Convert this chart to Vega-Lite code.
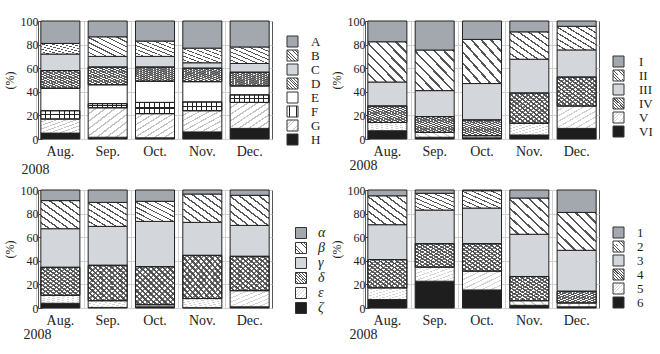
{
  "$schema": "https://vega.github.io/schema/vega-lite/v6.json",
  "padding": {"left": 2, "top": 14, "right": 0, "bottom": 0},
  "background": "white",
  "config": {
    "font": "Liberation Serif",
    "view": {"stroke": "#555", "strokeWidth": 1},
    "axis": {"labelColor": "#222", "titleColor": "#222", "domain": false, "gridColor": "#d0d0d0", "labelFont": "Liberation Serif", "titleFont": "Liberation Serif"},
    "legend": {"labelFont": "Liberation Serif", "labelColor": "#222"}
  },
  "datasets": {
    "p1": [
      {"m": "Aug.", "c": "H", "v": 5}, {"m": "Aug.", "c": "G", "v": 12}, {"m": "Aug.", "c": "F", "v": 7}, {"m": "Aug.", "c": "E", "v": 19}, {"m": "Aug.", "c": "D", "v": 15}, {"m": "Aug.", "c": "C", "v": 14}, {"m": "Aug.", "c": "B", "v": 9}, {"m": "Aug.", "c": "A", "v": 19},
      {"m": "Sep.", "c": "H", "v": 1.5}, {"m": "Sep.", "c": "G", "v": 25}, {"m": "Sep.", "c": "F", "v": 3.5}, {"m": "Sep.", "c": "E", "v": 16}, {"m": "Sep.", "c": "D", "v": 15}, {"m": "Sep.", "c": "C", "v": 9}, {"m": "Sep.", "c": "B", "v": 16.6}, {"m": "Sep.", "c": "A", "v": 13.4},
      {"m": "Oct.", "c": "H", "v": 1}, {"m": "Oct.", "c": "G", "v": 20.5}, {"m": "Oct.", "c": "F", "v": 9.5}, {"m": "Oct.", "c": "E", "v": 18}, {"m": "Oct.", "c": "D", "v": 12}, {"m": "Oct.", "c": "C", "v": 9}, {"m": "Oct.", "c": "B", "v": 13}, {"m": "Oct.", "c": "A", "v": 17},
      {"m": "Nov.", "c": "H", "v": 6}, {"m": "Nov.", "c": "G", "v": 18}, {"m": "Nov.", "c": "F", "v": 7.4}, {"m": "Nov.", "c": "E", "v": 17.2}, {"m": "Nov.", "c": "D", "v": 11.4}, {"m": "Nov.", "c": "C", "v": 4.6}, {"m": "Nov.", "c": "B", "v": 12.4}, {"m": "Nov.", "c": "A", "v": 23},
      {"m": "Dec.", "c": "H", "v": 9}, {"m": "Dec.", "c": "G", "v": 22}, {"m": "Dec.", "c": "F", "v": 6.4}, {"m": "Dec.", "c": "E", "v": 7.6}, {"m": "Dec.", "c": "D", "v": 11.6}, {"m": "Dec.", "c": "C", "v": 7.4}, {"m": "Dec.", "c": "B", "v": 14}, {"m": "Dec.", "c": "A", "v": 22}
    ],
    "p2": [
      {"m": "Aug.", "c": "VI", "v": 7}, {"m": "Aug.", "c": "V", "v": 7}, {"m": "Aug.", "c": "IV", "v": 14}, {"m": "Aug.", "c": "III", "v": 20.3}, {"m": "Aug.", "c": "II", "v": 34.1}, {"m": "Aug.", "c": "I", "v": 17.6},
      {"m": "Sep.", "c": "VI", "v": 1.5}, {"m": "Sep.", "c": "V", "v": 4.1}, {"m": "Sep.", "c": "IV", "v": 13.4}, {"m": "Sep.", "c": "III", "v": 22}, {"m": "Sep.", "c": "II", "v": 34.4}, {"m": "Sep.", "c": "I", "v": 24.6},
      {"m": "Oct.", "c": "VI", "v": 1}, {"m": "Oct.", "c": "V", "v": 1.8}, {"m": "Oct.", "c": "IV", "v": 13.4}, {"m": "Oct.", "c": "III", "v": 30.8}, {"m": "Oct.", "c": "II", "v": 37.4}, {"m": "Oct.", "c": "I", "v": 15.6},
      {"m": "Nov.", "c": "VI", "v": 3.4}, {"m": "Nov.", "c": "V", "v": 10}, {"m": "Nov.", "c": "IV", "v": 25.6}, {"m": "Nov.", "c": "III", "v": 28.6}, {"m": "Nov.", "c": "II", "v": 23.2}, {"m": "Nov.", "c": "I", "v": 9.2},
      {"m": "Dec.", "c": "VI", "v": 9}, {"m": "Dec.", "c": "V", "v": 19}, {"m": "Dec.", "c": "IV", "v": 24.5}, {"m": "Dec.", "c": "III", "v": 23}, {"m": "Dec.", "c": "II", "v": 20}, {"m": "Dec.", "c": "I", "v": 4.5}
    ],
    "p3": [
      {"m": "Aug.", "c": "ζ", "v": 4}, {"m": "Aug.", "c": "ε", "v": 6.7}, {"m": "Aug.", "c": "δ", "v": 23.8}, {"m": "Aug.", "c": "γ", "v": 32.7}, {"m": "Aug.", "c": "β", "v": 23.8}, {"m": "Aug.", "c": "α", "v": 9},
      {"m": "Sep.", "c": "ζ", "v": 0.5}, {"m": "Sep.", "c": "ε", "v": 5.7}, {"m": "Sep.", "c": "δ", "v": 30}, {"m": "Sep.", "c": "γ", "v": 33}, {"m": "Sep.", "c": "β", "v": 20.3}, {"m": "Sep.", "c": "α", "v": 10.5},
      {"m": "Oct.", "c": "ζ", "v": 1}, {"m": "Oct.", "c": "ε", "v": 1.8}, {"m": "Oct.", "c": "δ", "v": 32.2}, {"m": "Oct.", "c": "γ", "v": 38.4}, {"m": "Oct.", "c": "β", "v": 17}, {"m": "Oct.", "c": "α", "v": 9.6},
      {"m": "Nov.", "c": "ζ", "v": 0.3}, {"m": "Nov.", "c": "ε", "v": 7.7}, {"m": "Nov.", "c": "δ", "v": 36.6}, {"m": "Nov.", "c": "γ", "v": 28}, {"m": "Nov.", "c": "β", "v": 24}, {"m": "Nov.", "c": "α", "v": 3.4},
      {"m": "Dec.", "c": "ζ", "v": 1}, {"m": "Dec.", "c": "ε", "v": 13.7}, {"m": "Dec.", "c": "δ", "v": 29.1}, {"m": "Dec.", "c": "γ", "v": 26.2}, {"m": "Dec.", "c": "β", "v": 25.5}, {"m": "Dec.", "c": "α", "v": 4.5}
    ],
    "p4": [
      {"m": "Aug.", "c": "6", "v": 7.1}, {"m": "Aug.", "c": "5", "v": 10}, {"m": "Aug.", "c": "4", "v": 24}, {"m": "Aug.", "c": "3", "v": 29.5}, {"m": "Aug.", "c": "2", "v": 24.5}, {"m": "Aug.", "c": "1", "v": 4.9},
      {"m": "Sep.", "c": "6", "v": 22.7}, {"m": "Sep.", "c": "5", "v": 12}, {"m": "Sep.", "c": "4", "v": 19.8}, {"m": "Sep.", "c": "3", "v": 28.5}, {"m": "Sep.", "c": "2", "v": 14.2}, {"m": "Sep.", "c": "1", "v": 2.8},
      {"m": "Oct.", "c": "6", "v": 15.3}, {"m": "Oct.", "c": "5", "v": 16}, {"m": "Oct.", "c": "4", "v": 23.2}, {"m": "Oct.", "c": "3", "v": 30.2}, {"m": "Oct.", "c": "2", "v": 14.7}, {"m": "Oct.", "c": "1", "v": 0.6},
      {"m": "Nov.", "c": "6", "v": 2.3}, {"m": "Nov.", "c": "5", "v": 3.9}, {"m": "Nov.", "c": "4", "v": 20.5}, {"m": "Nov.", "c": "3", "v": 35.8}, {"m": "Nov.", "c": "2", "v": 30.7}, {"m": "Nov.", "c": "1", "v": 6.8},
      {"m": "Dec.", "c": "6", "v": 1}, {"m": "Dec.", "c": "5", "v": 3.3}, {"m": "Dec.", "c": "4", "v": 9.9}, {"m": "Dec.", "c": "3", "v": 34.7}, {"m": "Dec.", "c": "2", "v": 32.1}, {"m": "Dec.", "c": "1", "v": 19}
    ]
  },
  "columns": 2,
  "spacing": {"row": 51, "column": 93},
  "bounds": "flush",
  "resolve": {"scale": {"color": "independent", "x": "independent", "y": "independent"}},
  "concat": [
    {
      "width": 234, "height": 118,
      "data": {"name": "p1"},
      "transform": [{"stack": "v", "groupby": ["m"], "sort": [{"field": "c", "order": "descending"}], "as": ["y0", "y1"]}],
      "encoding": {
        "x": {"field": "m", "type": "nominal", "sort": ["Aug.", "Sep.", "Oct.", "Nov.", "Dec."], "scale": {"paddingInner": 0.175, "paddingOuter": 0.06},
          "axis": {"title": "2008", "labelAngle": 0, "labelFontSize": 14, "labelPadding": 5, "ticks": false, "grid": true, "bandPosition": -0.106, "titleFontSize": 14, "titleFontWeight": "normal", "titleAnchor": "start", "titleAlign": "left", "titleBaseline": "alphabetic", "titleX": -17, "titleY": 34}},
        "y": {"field": "y1", "type": "quantitative", "scale": {"domain": [0, 100], "nice": false},
          "axis": {"title": "(%)", "values": [0, 20, 40, 60, 80, 100], "labelFontSize": 12, "titleFontSize": 12, "titleFontWeight": "normal", "titlePadding": 4, "labelPadding": 4, "tickSize": -4, "tickColor": "#444", "grid": true}},
        "y2": {"field": "y0"}
      },
      "layer": [
        {
          "mark": {"type": "bar", "stroke": "#222", "strokeWidth": 1},
          "encoding": {
            "color": {"field": "c", "type": "nominal",
              "scale": {"domain": ["A", "B", "C", "D", "E", "F", "G", "H"],
                "range": [
                  "#a3a7ae",
                  {"expr": "{gradient:'linear',x1:0,y1:1,x2:1,y2:0,stops:[{offset:0,color:'#fff'},{offset:0.095,color:'#fff'},{offset:0.095,color:'#555'},{offset:0.125,color:'#555'},{offset:0.125,color:'#fff'},{offset:0.22,color:'#fff'},{offset:0.22,color:'#555'},{offset:0.25,color:'#555'},{offset:0.25,color:'#fff'},{offset:0.345,color:'#fff'},{offset:0.345,color:'#555'},{offset:0.375,color:'#555'},{offset:0.375,color:'#fff'},{offset:0.47,color:'#fff'},{offset:0.47,color:'#555'},{offset:0.5,color:'#555'},{offset:0.5,color:'#fff'},{offset:0.595,color:'#fff'},{offset:0.595,color:'#555'},{offset:0.625,color:'#555'},{offset:0.625,color:'#fff'},{offset:0.72,color:'#fff'},{offset:0.72,color:'#555'},{offset:0.75,color:'#555'},{offset:0.75,color:'#fff'},{offset:0.845,color:'#fff'},{offset:0.845,color:'#555'},{offset:0.875,color:'#555'},{offset:0.875,color:'#fff'},{offset:0.97,color:'#fff'},{offset:0.97,color:'#555'},{offset:1,color:'#555'}]}"},
                  "#d3d6da",
                  {"expr": "{gradient:'linear',x1:0,y1:1,x2:1,y2:0,stops:[{offset:0,color:'#fff'},{offset:0.04,color:'#fff'},{offset:0.04,color:'#555'},{offset:0.0714,color:'#555'},{offset:0.0714,color:'#fff'},{offset:0.1114,color:'#fff'},{offset:0.1114,color:'#555'},{offset:0.1429,color:'#555'},{offset:0.1429,color:'#fff'},{offset:0.1829,color:'#fff'},{offset:0.1829,color:'#555'},{offset:0.2143,color:'#555'},{offset:0.2143,color:'#fff'},{offset:0.2543,color:'#fff'},{offset:0.2543,color:'#555'},{offset:0.2857,color:'#555'},{offset:0.2857,color:'#fff'},{offset:0.3257,color:'#fff'},{offset:0.3257,color:'#555'},{offset:0.3571,color:'#555'},{offset:0.3571,color:'#fff'},{offset:0.3971,color:'#fff'},{offset:0.3971,color:'#555'},{offset:0.4286,color:'#555'},{offset:0.4286,color:'#fff'},{offset:0.4686,color:'#fff'},{offset:0.4686,color:'#555'},{offset:0.5,color:'#555'},{offset:0.5,color:'#fff'},{offset:0.54,color:'#fff'},{offset:0.54,color:'#555'},{offset:0.5714,color:'#555'},{offset:0.5714,color:'#fff'},{offset:0.6114,color:'#fff'},{offset:0.6114,color:'#555'},{offset:0.6429,color:'#555'},{offset:0.6429,color:'#fff'},{offset:0.6829,color:'#fff'},{offset:0.6829,color:'#555'},{offset:0.7143,color:'#555'},{offset:0.7143,color:'#fff'},{offset:0.7543,color:'#fff'},{offset:0.7543,color:'#555'},{offset:0.7857,color:'#555'},{offset:0.7857,color:'#fff'},{offset:0.8257,color:'#fff'},{offset:0.8257,color:'#555'},{offset:0.8571,color:'#555'},{offset:0.8571,color:'#fff'},{offset:0.8971,color:'#fff'},{offset:0.8971,color:'#555'},{offset:0.9286,color:'#555'},{offset:0.9286,color:'#fff'},{offset:0.9686,color:'#fff'},{offset:0.9686,color:'#555'},{offset:1,color:'#555'}]}"},
                  "#ffffff",
                  {"expr": "{gradient:'linear',x1:0,y1:0,x2:1,y2:0,stops:[{offset:0,color:'#fff'},{offset:0.1,color:'#fff'},{offset:0.1,color:'#222'},{offset:0.125,color:'#222'},{offset:0.125,color:'#fff'},{offset:0.225,color:'#fff'},{offset:0.225,color:'#222'},{offset:0.25,color:'#222'},{offset:0.25,color:'#fff'},{offset:0.35,color:'#fff'},{offset:0.35,color:'#222'},{offset:0.375,color:'#222'},{offset:0.375,color:'#fff'},{offset:0.475,color:'#fff'},{offset:0.475,color:'#222'},{offset:0.5,color:'#222'},{offset:0.5,color:'#fff'},{offset:0.6,color:'#fff'},{offset:0.6,color:'#222'},{offset:0.625,color:'#222'},{offset:0.625,color:'#fff'},{offset:0.725,color:'#fff'},{offset:0.725,color:'#222'},{offset:0.75,color:'#222'},{offset:0.75,color:'#fff'},{offset:0.85,color:'#fff'},{offset:0.85,color:'#222'},{offset:0.875,color:'#222'},{offset:0.875,color:'#fff'},{offset:0.975,color:'#fff'},{offset:0.975,color:'#222'},{offset:1,color:'#222'}]}"},
                  {"expr": "{gradient:'linear',x1:0,y1:0,x2:1,y2:1,stops:[{offset:0,color:'#fff'},{offset:0.095,color:'#fff'},{offset:0.095,color:'#c4c4c4'},{offset:0.125,color:'#c4c4c4'},{offset:0.125,color:'#fff'},{offset:0.22,color:'#fff'},{offset:0.22,color:'#c4c4c4'},{offset:0.25,color:'#c4c4c4'},{offset:0.25,color:'#fff'},{offset:0.345,color:'#fff'},{offset:0.345,color:'#c4c4c4'},{offset:0.375,color:'#c4c4c4'},{offset:0.375,color:'#fff'},{offset:0.47,color:'#fff'},{offset:0.47,color:'#c4c4c4'},{offset:0.5,color:'#c4c4c4'},{offset:0.5,color:'#fff'},{offset:0.595,color:'#fff'},{offset:0.595,color:'#c4c4c4'},{offset:0.625,color:'#c4c4c4'},{offset:0.625,color:'#fff'},{offset:0.72,color:'#fff'},{offset:0.72,color:'#c4c4c4'},{offset:0.75,color:'#c4c4c4'},{offset:0.75,color:'#fff'},{offset:0.845,color:'#fff'},{offset:0.845,color:'#c4c4c4'},{offset:0.875,color:'#c4c4c4'},{offset:0.875,color:'#fff'},{offset:0.97,color:'#fff'},{offset:0.97,color:'#c4c4c4'},{offset:1,color:'#c4c4c4'}]}"},
                  "#1e1e1e"
                ]},
              "legend": {"title": null, "orient": "none", "legendX": 248, "legendY": 14, "symbolType": "square", "symbolSize": 121, "symbolStrokeColor": "#333", "symbolStrokeWidth": 1, "labelFontSize": 13, "labelOffset": 12, "rowPadding": -1.3}}
          }
        },
        {
          "transform": [{"filter": {"field": "c", "oneOf": ["D", "F"]}}],
          "mark": {"type": "bar", "stroke": "#222", "strokeWidth": 1},
          "encoding": {
            "fill": {"condition": {"test": "datum.c === 'F'", "value": {"gradient": "linear", "x1": 0, "y1": 0, "x2": 0, "y2": 1, "stops": [{"offset":0,"color":"rgba(0,0,0,0)"},{"offset":0.44,"color":"rgba(0,0,0,0)"},{"offset":0.44,"color":"#222"},{"offset":0.56,"color":"#222"},{"offset":0.56,"color":"rgba(0,0,0,0)"},{"offset":1,"color":"rgba(0,0,0,0)"}]}},
              "value": {"expr": "{gradient:'linear',x1:0,y1:0,x2:1,y2:1,stops:[{offset:0,color:'rgba(0,0,0,0)'},{offset:0.04,color:'rgba(0,0,0,0)'},{offset:0.04,color:'rgba(70,70,70,0.7)'},{offset:0.0714,color:'rgba(70,70,70,0.7)'},{offset:0.0714,color:'rgba(0,0,0,0)'},{offset:0.1114,color:'rgba(0,0,0,0)'},{offset:0.1114,color:'rgba(70,70,70,0.7)'},{offset:0.1429,color:'rgba(70,70,70,0.7)'},{offset:0.1429,color:'rgba(0,0,0,0)'},{offset:0.1829,color:'rgba(0,0,0,0)'},{offset:0.1829,color:'rgba(70,70,70,0.7)'},{offset:0.2143,color:'rgba(70,70,70,0.7)'},{offset:0.2143,color:'rgba(0,0,0,0)'},{offset:0.2543,color:'rgba(0,0,0,0)'},{offset:0.2543,color:'rgba(70,70,70,0.7)'},{offset:0.2857,color:'rgba(70,70,70,0.7)'},{offset:0.2857,color:'rgba(0,0,0,0)'},{offset:0.3257,color:'rgba(0,0,0,0)'},{offset:0.3257,color:'rgba(70,70,70,0.7)'},{offset:0.3571,color:'rgba(70,70,70,0.7)'},{offset:0.3571,color:'rgba(0,0,0,0)'},{offset:0.3971,color:'rgba(0,0,0,0)'},{offset:0.3971,color:'rgba(70,70,70,0.7)'},{offset:0.4286,color:'rgba(70,70,70,0.7)'},{offset:0.4286,color:'rgba(0,0,0,0)'},{offset:0.4686,color:'rgba(0,0,0,0)'},{offset:0.4686,color:'rgba(70,70,70,0.7)'},{offset:0.5,color:'rgba(70,70,70,0.7)'},{offset:0.5,color:'rgba(0,0,0,0)'},{offset:0.54,color:'rgba(0,0,0,0)'},{offset:0.54,color:'rgba(70,70,70,0.7)'},{offset:0.5714,color:'rgba(70,70,70,0.7)'},{offset:0.5714,color:'rgba(0,0,0,0)'},{offset:0.6114,color:'rgba(0,0,0,0)'},{offset:0.6114,color:'rgba(70,70,70,0.7)'},{offset:0.6429,color:'rgba(70,70,70,0.7)'},{offset:0.6429,color:'rgba(0,0,0,0)'},{offset:0.6829,color:'rgba(0,0,0,0)'},{offset:0.6829,color:'rgba(70,70,70,0.7)'},{offset:0.7143,color:'rgba(70,70,70,0.7)'},{offset:0.7143,color:'rgba(0,0,0,0)'},{offset:0.7543,color:'rgba(0,0,0,0)'},{offset:0.7543,color:'rgba(70,70,70,0.7)'},{offset:0.7857,color:'rgba(70,70,70,0.7)'},{offset:0.7857,color:'rgba(0,0,0,0)'},{offset:0.8257,color:'rgba(0,0,0,0)'},{offset:0.8257,color:'rgba(70,70,70,0.7)'},{offset:0.8571,color:'rgba(70,70,70,0.7)'},{offset:0.8571,color:'rgba(0,0,0,0)'},{offset:0.8971,color:'rgba(0,0,0,0)'},{offset:0.8971,color:'rgba(70,70,70,0.7)'},{offset:0.9286,color:'rgba(70,70,70,0.7)'},{offset:0.9286,color:'rgba(0,0,0,0)'},{offset:0.9686,color:'rgba(0,0,0,0)'},{offset:0.9686,color:'rgba(70,70,70,0.7)'},{offset:1,color:'rgba(70,70,70,0.7)'}]}"}}
          }
        }
      ]
    },
    {
      "width": 234, "height": 118,
      "data": {"name": "p2"},
      "transform": [{"stack": "v", "groupby": ["m"], "sort": [{"field": "c", "order": "descending"}], "as": ["y0", "y1"]}],
      "encoding": {
        "x": {"field": "m", "type": "nominal", "sort": ["Aug.", "Sep.", "Oct.", "Nov.", "Dec."], "scale": {"paddingInner": 0.175, "paddingOuter": 0.06},
          "axis": {"title": "2008", "labelAngle": 0, "labelFontSize": 14, "labelPadding": 5, "ticks": false, "grid": true, "bandPosition": -0.106, "titleFontSize": 14, "titleFontWeight": "normal", "titleAnchor": "start", "titleAlign": "left", "titleBaseline": "alphabetic", "titleX": -16, "titleY": 30}},
        "y": {"field": "y1", "type": "quantitative", "scale": {"domain": [0, 100], "nice": false},
          "axis": {"title": "(%)", "values": [0, 20, 40, 60, 80, 100], "labelFontSize": 12, "titleFontSize": 12, "titleFontWeight": "normal", "titlePadding": 4, "labelPadding": 4, "tickSize": -4, "tickColor": "#444", "grid": true}},
        "y2": {"field": "y0"}
      },
      "layer": [
        {
          "mark": {"type": "bar", "stroke": "#222", "strokeWidth": 1},
          "encoding": {
            "color": {"field": "c", "type": "nominal",
              "scale": {"domain": ["I", "II", "III", "IV", "V", "VI"],
                "range": [
                  "#a3a7ae",
                  {"expr": "{gradient:'linear',x1:0,y1:1,x2:1,y2:0,stops:[{offset:0,color:'#fff'},{offset:0.095,color:'#fff'},{offset:0.095,color:'#555'},{offset:0.125,color:'#555'},{offset:0.125,color:'#fff'},{offset:0.22,color:'#fff'},{offset:0.22,color:'#555'},{offset:0.25,color:'#555'},{offset:0.25,color:'#fff'},{offset:0.345,color:'#fff'},{offset:0.345,color:'#555'},{offset:0.375,color:'#555'},{offset:0.375,color:'#fff'},{offset:0.47,color:'#fff'},{offset:0.47,color:'#555'},{offset:0.5,color:'#555'},{offset:0.5,color:'#fff'},{offset:0.595,color:'#fff'},{offset:0.595,color:'#555'},{offset:0.625,color:'#555'},{offset:0.625,color:'#fff'},{offset:0.72,color:'#fff'},{offset:0.72,color:'#555'},{offset:0.75,color:'#555'},{offset:0.75,color:'#fff'},{offset:0.845,color:'#fff'},{offset:0.845,color:'#555'},{offset:0.875,color:'#555'},{offset:0.875,color:'#fff'},{offset:0.97,color:'#fff'},{offset:0.97,color:'#555'},{offset:1,color:'#555'}]}"},
                  "#d3d6da",
                  {"expr": "{gradient:'linear',x1:0,y1:1,x2:1,y2:0,stops:[{offset:0,color:'#fff'},{offset:0.04,color:'#fff'},{offset:0.04,color:'#555'},{offset:0.0714,color:'#555'},{offset:0.0714,color:'#fff'},{offset:0.1114,color:'#fff'},{offset:0.1114,color:'#555'},{offset:0.1429,color:'#555'},{offset:0.1429,color:'#fff'},{offset:0.1829,color:'#fff'},{offset:0.1829,color:'#555'},{offset:0.2143,color:'#555'},{offset:0.2143,color:'#fff'},{offset:0.2543,color:'#fff'},{offset:0.2543,color:'#555'},{offset:0.2857,color:'#555'},{offset:0.2857,color:'#fff'},{offset:0.3257,color:'#fff'},{offset:0.3257,color:'#555'},{offset:0.3571,color:'#555'},{offset:0.3571,color:'#fff'},{offset:0.3971,color:'#fff'},{offset:0.3971,color:'#555'},{offset:0.4286,color:'#555'},{offset:0.4286,color:'#fff'},{offset:0.4686,color:'#fff'},{offset:0.4686,color:'#555'},{offset:0.5,color:'#555'},{offset:0.5,color:'#fff'},{offset:0.54,color:'#fff'},{offset:0.54,color:'#555'},{offset:0.5714,color:'#555'},{offset:0.5714,color:'#fff'},{offset:0.6114,color:'#fff'},{offset:0.6114,color:'#555'},{offset:0.6429,color:'#555'},{offset:0.6429,color:'#fff'},{offset:0.6829,color:'#fff'},{offset:0.6829,color:'#555'},{offset:0.7143,color:'#555'},{offset:0.7143,color:'#fff'},{offset:0.7543,color:'#fff'},{offset:0.7543,color:'#555'},{offset:0.7857,color:'#555'},{offset:0.7857,color:'#fff'},{offset:0.8257,color:'#fff'},{offset:0.8257,color:'#555'},{offset:0.8571,color:'#555'},{offset:0.8571,color:'#fff'},{offset:0.8971,color:'#fff'},{offset:0.8971,color:'#555'},{offset:0.9286,color:'#555'},{offset:0.9286,color:'#fff'},{offset:0.9686,color:'#fff'},{offset:0.9686,color:'#555'},{offset:1,color:'#555'}]}"},
                  {"expr": "{gradient:'linear',x1:0,y1:0,x2:1,y2:1,stops:[{offset:0,color:'#fff'},{offset:0.095,color:'#fff'},{offset:0.095,color:'#d2d2d2'},{offset:0.125,color:'#d2d2d2'},{offset:0.125,color:'#fff'},{offset:0.22,color:'#fff'},{offset:0.22,color:'#d2d2d2'},{offset:0.25,color:'#d2d2d2'},{offset:0.25,color:'#fff'},{offset:0.345,color:'#fff'},{offset:0.345,color:'#d2d2d2'},{offset:0.375,color:'#d2d2d2'},{offset:0.375,color:'#fff'},{offset:0.47,color:'#fff'},{offset:0.47,color:'#d2d2d2'},{offset:0.5,color:'#d2d2d2'},{offset:0.5,color:'#fff'},{offset:0.595,color:'#fff'},{offset:0.595,color:'#d2d2d2'},{offset:0.625,color:'#d2d2d2'},{offset:0.625,color:'#fff'},{offset:0.72,color:'#fff'},{offset:0.72,color:'#d2d2d2'},{offset:0.75,color:'#d2d2d2'},{offset:0.75,color:'#fff'},{offset:0.845,color:'#fff'},{offset:0.845,color:'#d2d2d2'},{offset:0.875,color:'#d2d2d2'},{offset:0.875,color:'#fff'},{offset:0.97,color:'#fff'},{offset:0.97,color:'#d2d2d2'},{offset:1,color:'#d2d2d2'}]}"},
                  "#1e1e1e"
                ]},
              "legend": {"title": null, "orient": "none", "legendX": 247, "legendY": 34, "symbolType": "square", "symbolSize": 121, "symbolStrokeColor": "#333", "symbolStrokeWidth": 1, "labelFontSize": 13, "labelOffset": 14, "rowPadding": -1}}
          }
        },
        {
          "transform": [{"filter": {"field": "c", "oneOf": ["IV"]}}],
          "mark": {"type": "bar", "stroke": "#222", "strokeWidth": 1},
          "encoding": {
            "fill": {"value": {"expr": "{gradient:'linear',x1:0,y1:0,x2:1,y2:1,stops:[{offset:0,color:'rgba(0,0,0,0)'},{offset:0.04,color:'rgba(0,0,0,0)'},{offset:0.04,color:'rgba(70,70,70,0.7)'},{offset:0.0714,color:'rgba(70,70,70,0.7)'},{offset:0.0714,color:'rgba(0,0,0,0)'},{offset:0.1114,color:'rgba(0,0,0,0)'},{offset:0.1114,color:'rgba(70,70,70,0.7)'},{offset:0.1429,color:'rgba(70,70,70,0.7)'},{offset:0.1429,color:'rgba(0,0,0,0)'},{offset:0.1829,color:'rgba(0,0,0,0)'},{offset:0.1829,color:'rgba(70,70,70,0.7)'},{offset:0.2143,color:'rgba(70,70,70,0.7)'},{offset:0.2143,color:'rgba(0,0,0,0)'},{offset:0.2543,color:'rgba(0,0,0,0)'},{offset:0.2543,color:'rgba(70,70,70,0.7)'},{offset:0.2857,color:'rgba(70,70,70,0.7)'},{offset:0.2857,color:'rgba(0,0,0,0)'},{offset:0.3257,color:'rgba(0,0,0,0)'},{offset:0.3257,color:'rgba(70,70,70,0.7)'},{offset:0.3571,color:'rgba(70,70,70,0.7)'},{offset:0.3571,color:'rgba(0,0,0,0)'},{offset:0.3971,color:'rgba(0,0,0,0)'},{offset:0.3971,color:'rgba(70,70,70,0.7)'},{offset:0.4286,color:'rgba(70,70,70,0.7)'},{offset:0.4286,color:'rgba(0,0,0,0)'},{offset:0.4686,color:'rgba(0,0,0,0)'},{offset:0.4686,color:'rgba(70,70,70,0.7)'},{offset:0.5,color:'rgba(70,70,70,0.7)'},{offset:0.5,color:'rgba(0,0,0,0)'},{offset:0.54,color:'rgba(0,0,0,0)'},{offset:0.54,color:'rgba(70,70,70,0.7)'},{offset:0.5714,color:'rgba(70,70,70,0.7)'},{offset:0.5714,color:'rgba(0,0,0,0)'},{offset:0.6114,color:'rgba(0,0,0,0)'},{offset:0.6114,color:'rgba(70,70,70,0.7)'},{offset:0.6429,color:'rgba(70,70,70,0.7)'},{offset:0.6429,color:'rgba(0,0,0,0)'},{offset:0.6829,color:'rgba(0,0,0,0)'},{offset:0.6829,color:'rgba(70,70,70,0.7)'},{offset:0.7143,color:'rgba(70,70,70,0.7)'},{offset:0.7143,color:'rgba(0,0,0,0)'},{offset:0.7543,color:'rgba(0,0,0,0)'},{offset:0.7543,color:'rgba(70,70,70,0.7)'},{offset:0.7857,color:'rgba(70,70,70,0.7)'},{offset:0.7857,color:'rgba(0,0,0,0)'},{offset:0.8257,color:'rgba(0,0,0,0)'},{offset:0.8257,color:'rgba(70,70,70,0.7)'},{offset:0.8571,color:'rgba(70,70,70,0.7)'},{offset:0.8571,color:'rgba(0,0,0,0)'},{offset:0.8971,color:'rgba(0,0,0,0)'},{offset:0.8971,color:'rgba(70,70,70,0.7)'},{offset:0.9286,color:'rgba(70,70,70,0.7)'},{offset:0.9286,color:'rgba(0,0,0,0)'},{offset:0.9686,color:'rgba(0,0,0,0)'},{offset:0.9686,color:'rgba(70,70,70,0.7)'},{offset:1,color:'rgba(70,70,70,0.7)'}]}"}}
          }
        }
      ]
    },
    {
      "width": 234, "height": 118,
      "data": {"name": "p3"},
      "transform": [{"stack": "v", "groupby": ["m"], "sort": [{"field": "c", "order": "descending"}], "as": ["y0", "y1"]}],
      "encoding": {
        "x": {"field": "m", "type": "nominal", "sort": ["Aug.", "Sep.", "Oct.", "Nov.", "Dec."], "scale": {"paddingInner": 0.175, "paddingOuter": 0.06},
          "axis": {"title": "2008", "labelAngle": 0, "labelFontSize": 14, "labelPadding": 5, "ticks": false, "grid": true, "bandPosition": -0.106, "titleFontSize": 14, "titleFontWeight": "normal", "titleAnchor": "start", "titleAlign": "left", "titleBaseline": "alphabetic", "titleX": -15, "titleY": 30}},
        "y": {"field": "y1", "type": "quantitative", "scale": {"domain": [0, 100], "nice": false},
          "axis": {"title": "(%)", "values": [0, 20, 40, 60, 80, 100], "labelFontSize": 12, "titleFontSize": 12, "titleFontWeight": "normal", "titlePadding": 4, "labelPadding": 4, "tickSize": -4, "tickColor": "#444", "grid": true}},
        "y2": {"field": "y0"}
      },
      "layer": [
        {
          "mark": {"type": "bar", "stroke": "#222", "strokeWidth": 1},
          "encoding": {
            "color": {"field": "c", "type": "nominal",
              "scale": {"domain": ["α", "β", "γ", "δ", "ε", "ζ"],
                "range": [
                  "#a3a7ae",
                  {"expr": "{gradient:'linear',x1:0,y1:1,x2:1,y2:0,stops:[{offset:0,color:'#fff'},{offset:0.095,color:'#fff'},{offset:0.095,color:'#555'},{offset:0.125,color:'#555'},{offset:0.125,color:'#fff'},{offset:0.22,color:'#fff'},{offset:0.22,color:'#555'},{offset:0.25,color:'#555'},{offset:0.25,color:'#fff'},{offset:0.345,color:'#fff'},{offset:0.345,color:'#555'},{offset:0.375,color:'#555'},{offset:0.375,color:'#fff'},{offset:0.47,color:'#fff'},{offset:0.47,color:'#555'},{offset:0.5,color:'#555'},{offset:0.5,color:'#fff'},{offset:0.595,color:'#fff'},{offset:0.595,color:'#555'},{offset:0.625,color:'#555'},{offset:0.625,color:'#fff'},{offset:0.72,color:'#fff'},{offset:0.72,color:'#555'},{offset:0.75,color:'#555'},{offset:0.75,color:'#fff'},{offset:0.845,color:'#fff'},{offset:0.845,color:'#555'},{offset:0.875,color:'#555'},{offset:0.875,color:'#fff'},{offset:0.97,color:'#fff'},{offset:0.97,color:'#555'},{offset:1,color:'#555'}]}"},
                  "#d3d6da",
                  {"expr": "{gradient:'linear',x1:0,y1:1,x2:1,y2:0,stops:[{offset:0,color:'#fff'},{offset:0.04,color:'#fff'},{offset:0.04,color:'#555'},{offset:0.0714,color:'#555'},{offset:0.0714,color:'#fff'},{offset:0.1114,color:'#fff'},{offset:0.1114,color:'#555'},{offset:0.1429,color:'#555'},{offset:0.1429,color:'#fff'},{offset:0.1829,color:'#fff'},{offset:0.1829,color:'#555'},{offset:0.2143,color:'#555'},{offset:0.2143,color:'#fff'},{offset:0.2543,color:'#fff'},{offset:0.2543,color:'#555'},{offset:0.2857,color:'#555'},{offset:0.2857,color:'#fff'},{offset:0.3257,color:'#fff'},{offset:0.3257,color:'#555'},{offset:0.3571,color:'#555'},{offset:0.3571,color:'#fff'},{offset:0.3971,color:'#fff'},{offset:0.3971,color:'#555'},{offset:0.4286,color:'#555'},{offset:0.4286,color:'#fff'},{offset:0.4686,color:'#fff'},{offset:0.4686,color:'#555'},{offset:0.5,color:'#555'},{offset:0.5,color:'#fff'},{offset:0.54,color:'#fff'},{offset:0.54,color:'#555'},{offset:0.5714,color:'#555'},{offset:0.5714,color:'#fff'},{offset:0.6114,color:'#fff'},{offset:0.6114,color:'#555'},{offset:0.6429,color:'#555'},{offset:0.6429,color:'#fff'},{offset:0.6829,color:'#fff'},{offset:0.6829,color:'#555'},{offset:0.7143,color:'#555'},{offset:0.7143,color:'#fff'},{offset:0.7543,color:'#fff'},{offset:0.7543,color:'#555'},{offset:0.7857,color:'#555'},{offset:0.7857,color:'#fff'},{offset:0.8257,color:'#fff'},{offset:0.8257,color:'#555'},{offset:0.8571,color:'#555'},{offset:0.8571,color:'#fff'},{offset:0.8971,color:'#fff'},{offset:0.8971,color:'#555'},{offset:0.9286,color:'#555'},{offset:0.9286,color:'#fff'},{offset:0.9686,color:'#fff'},{offset:0.9686,color:'#555'},{offset:1,color:'#555'}]}"},
                  {"expr": "{gradient:'linear',x1:0,y1:0,x2:1,y2:1,stops:[{offset:0,color:'#fff'},{offset:0.095,color:'#fff'},{offset:0.095,color:'#d2d2d2'},{offset:0.125,color:'#d2d2d2'},{offset:0.125,color:'#fff'},{offset:0.22,color:'#fff'},{offset:0.22,color:'#d2d2d2'},{offset:0.25,color:'#d2d2d2'},{offset:0.25,color:'#fff'},{offset:0.345,color:'#fff'},{offset:0.345,color:'#d2d2d2'},{offset:0.375,color:'#d2d2d2'},{offset:0.375,color:'#fff'},{offset:0.47,color:'#fff'},{offset:0.47,color:'#d2d2d2'},{offset:0.5,color:'#d2d2d2'},{offset:0.5,color:'#fff'},{offset:0.595,color:'#fff'},{offset:0.595,color:'#d2d2d2'},{offset:0.625,color:'#d2d2d2'},{offset:0.625,color:'#fff'},{offset:0.72,color:'#fff'},{offset:0.72,color:'#d2d2d2'},{offset:0.75,color:'#d2d2d2'},{offset:0.75,color:'#fff'},{offset:0.845,color:'#fff'},{offset:0.845,color:'#d2d2d2'},{offset:0.875,color:'#d2d2d2'},{offset:0.875,color:'#fff'},{offset:0.97,color:'#fff'},{offset:0.97,color:'#d2d2d2'},{offset:1,color:'#d2d2d2'}]}"},
                  "#1e1e1e"
                ]},
              "legend": {"title": null, "orient": "none", "legendX": 256, "legendY": 36, "symbolType": "square", "symbolSize": 121, "symbolStrokeColor": "#333", "symbolStrokeWidth": 1, "labelFontSize": 14, "labelFontStyle": "italic", "labelOffset": 10, "rowPadding": -3.6}}
          }
        },
        {
          "transform": [{"filter": {"field": "c", "oneOf": ["δ"]}}],
          "mark": {"type": "bar", "stroke": "#222", "strokeWidth": 1},
          "encoding": {
            "fill": {"value": {"expr": "{gradient:'linear',x1:0,y1:0,x2:1,y2:1,stops:[{offset:0,color:'rgba(0,0,0,0)'},{offset:0.04,color:'rgba(0,0,0,0)'},{offset:0.04,color:'rgba(70,70,70,0.7)'},{offset:0.0714,color:'rgba(70,70,70,0.7)'},{offset:0.0714,color:'rgba(0,0,0,0)'},{offset:0.1114,color:'rgba(0,0,0,0)'},{offset:0.1114,color:'rgba(70,70,70,0.7)'},{offset:0.1429,color:'rgba(70,70,70,0.7)'},{offset:0.1429,color:'rgba(0,0,0,0)'},{offset:0.1829,color:'rgba(0,0,0,0)'},{offset:0.1829,color:'rgba(70,70,70,0.7)'},{offset:0.2143,color:'rgba(70,70,70,0.7)'},{offset:0.2143,color:'rgba(0,0,0,0)'},{offset:0.2543,color:'rgba(0,0,0,0)'},{offset:0.2543,color:'rgba(70,70,70,0.7)'},{offset:0.2857,color:'rgba(70,70,70,0.7)'},{offset:0.2857,color:'rgba(0,0,0,0)'},{offset:0.3257,color:'rgba(0,0,0,0)'},{offset:0.3257,color:'rgba(70,70,70,0.7)'},{offset:0.3571,color:'rgba(70,70,70,0.7)'},{offset:0.3571,color:'rgba(0,0,0,0)'},{offset:0.3971,color:'rgba(0,0,0,0)'},{offset:0.3971,color:'rgba(70,70,70,0.7)'},{offset:0.4286,color:'rgba(70,70,70,0.7)'},{offset:0.4286,color:'rgba(0,0,0,0)'},{offset:0.4686,color:'rgba(0,0,0,0)'},{offset:0.4686,color:'rgba(70,70,70,0.7)'},{offset:0.5,color:'rgba(70,70,70,0.7)'},{offset:0.5,color:'rgba(0,0,0,0)'},{offset:0.54,color:'rgba(0,0,0,0)'},{offset:0.54,color:'rgba(70,70,70,0.7)'},{offset:0.5714,color:'rgba(70,70,70,0.7)'},{offset:0.5714,color:'rgba(0,0,0,0)'},{offset:0.6114,color:'rgba(0,0,0,0)'},{offset:0.6114,color:'rgba(70,70,70,0.7)'},{offset:0.6429,color:'rgba(70,70,70,0.7)'},{offset:0.6429,color:'rgba(0,0,0,0)'},{offset:0.6829,color:'rgba(0,0,0,0)'},{offset:0.6829,color:'rgba(70,70,70,0.7)'},{offset:0.7143,color:'rgba(70,70,70,0.7)'},{offset:0.7143,color:'rgba(0,0,0,0)'},{offset:0.7543,color:'rgba(0,0,0,0)'},{offset:0.7543,color:'rgba(70,70,70,0.7)'},{offset:0.7857,color:'rgba(70,70,70,0.7)'},{offset:0.7857,color:'rgba(0,0,0,0)'},{offset:0.8257,color:'rgba(0,0,0,0)'},{offset:0.8257,color:'rgba(70,70,70,0.7)'},{offset:0.8571,color:'rgba(70,70,70,0.7)'},{offset:0.8571,color:'rgba(0,0,0,0)'},{offset:0.8971,color:'rgba(0,0,0,0)'},{offset:0.8971,color:'rgba(70,70,70,0.7)'},{offset:0.9286,color:'rgba(70,70,70,0.7)'},{offset:0.9286,color:'rgba(0,0,0,0)'},{offset:0.9686,color:'rgba(0,0,0,0)'},{offset:0.9686,color:'rgba(70,70,70,0.7)'},{offset:1,color:'rgba(70,70,70,0.7)'}]}"}}
          }
        }
      ]
    },
    {
      "width": 234, "height": 118,
      "data": {"name": "p4"},
      "transform": [{"stack": "v", "groupby": ["m"], "sort": [{"field": "c", "order": "descending"}], "as": ["y0", "y1"]}],
      "encoding": {
        "x": {"field": "m", "type": "nominal", "sort": ["Aug.", "Sep.", "Oct.", "Nov.", "Dec."], "scale": {"paddingInner": 0.175, "paddingOuter": 0.06},
          "axis": {"title": "2008", "labelAngle": 0, "labelFontSize": 14, "labelPadding": 5, "ticks": false, "grid": true, "bandPosition": -0.106, "titleFontSize": 14, "titleFontWeight": "normal", "titleAnchor": "start", "titleAlign": "left", "titleBaseline": "alphabetic", "titleX": -16, "titleY": 30}},
        "y": {"field": "y1", "type": "quantitative", "scale": {"domain": [0, 100], "nice": false},
          "axis": {"title": "(%)", "values": [0, 20, 40, 60, 80, 100], "labelFontSize": 12, "titleFontSize": 12, "titleFontWeight": "normal", "titlePadding": 4, "labelPadding": 4, "tickSize": -4, "tickColor": "#444", "grid": true}},
        "y2": {"field": "y0"}
      },
      "layer": [
        {
          "mark": {"type": "bar", "stroke": "#222", "strokeWidth": 1},
          "encoding": {
            "color": {"field": "c", "type": "nominal",
              "scale": {"domain": ["1", "2", "3", "4", "5", "6"],
                "range": [
                  "#a3a7ae",
                  {"expr": "{gradient:'linear',x1:0,y1:1,x2:1,y2:0,stops:[{offset:0,color:'#fff'},{offset:0.095,color:'#fff'},{offset:0.095,color:'#555'},{offset:0.125,color:'#555'},{offset:0.125,color:'#fff'},{offset:0.22,color:'#fff'},{offset:0.22,color:'#555'},{offset:0.25,color:'#555'},{offset:0.25,color:'#fff'},{offset:0.345,color:'#fff'},{offset:0.345,color:'#555'},{offset:0.375,color:'#555'},{offset:0.375,color:'#fff'},{offset:0.47,color:'#fff'},{offset:0.47,color:'#555'},{offset:0.5,color:'#555'},{offset:0.5,color:'#fff'},{offset:0.595,color:'#fff'},{offset:0.595,color:'#555'},{offset:0.625,color:'#555'},{offset:0.625,color:'#fff'},{offset:0.72,color:'#fff'},{offset:0.72,color:'#555'},{offset:0.75,color:'#555'},{offset:0.75,color:'#fff'},{offset:0.845,color:'#fff'},{offset:0.845,color:'#555'},{offset:0.875,color:'#555'},{offset:0.875,color:'#fff'},{offset:0.97,color:'#fff'},{offset:0.97,color:'#555'},{offset:1,color:'#555'}]}"},
                  "#d3d6da",
                  {"expr": "{gradient:'linear',x1:0,y1:1,x2:1,y2:0,stops:[{offset:0,color:'#fff'},{offset:0.04,color:'#fff'},{offset:0.04,color:'#555'},{offset:0.0714,color:'#555'},{offset:0.0714,color:'#fff'},{offset:0.1114,color:'#fff'},{offset:0.1114,color:'#555'},{offset:0.1429,color:'#555'},{offset:0.1429,color:'#fff'},{offset:0.1829,color:'#fff'},{offset:0.1829,color:'#555'},{offset:0.2143,color:'#555'},{offset:0.2143,color:'#fff'},{offset:0.2543,color:'#fff'},{offset:0.2543,color:'#555'},{offset:0.2857,color:'#555'},{offset:0.2857,color:'#fff'},{offset:0.3257,color:'#fff'},{offset:0.3257,color:'#555'},{offset:0.3571,color:'#555'},{offset:0.3571,color:'#fff'},{offset:0.3971,color:'#fff'},{offset:0.3971,color:'#555'},{offset:0.4286,color:'#555'},{offset:0.4286,color:'#fff'},{offset:0.4686,color:'#fff'},{offset:0.4686,color:'#555'},{offset:0.5,color:'#555'},{offset:0.5,color:'#fff'},{offset:0.54,color:'#fff'},{offset:0.54,color:'#555'},{offset:0.5714,color:'#555'},{offset:0.5714,color:'#fff'},{offset:0.6114,color:'#fff'},{offset:0.6114,color:'#555'},{offset:0.6429,color:'#555'},{offset:0.6429,color:'#fff'},{offset:0.6829,color:'#fff'},{offset:0.6829,color:'#555'},{offset:0.7143,color:'#555'},{offset:0.7143,color:'#fff'},{offset:0.7543,color:'#fff'},{offset:0.7543,color:'#555'},{offset:0.7857,color:'#555'},{offset:0.7857,color:'#fff'},{offset:0.8257,color:'#fff'},{offset:0.8257,color:'#555'},{offset:0.8571,color:'#555'},{offset:0.8571,color:'#fff'},{offset:0.8971,color:'#fff'},{offset:0.8971,color:'#555'},{offset:0.9286,color:'#555'},{offset:0.9286,color:'#fff'},{offset:0.9686,color:'#fff'},{offset:0.9686,color:'#555'},{offset:1,color:'#555'}]}"},
                  {"expr": "{gradient:'linear',x1:0,y1:0,x2:1,y2:1,stops:[{offset:0,color:'#fff'},{offset:0.095,color:'#fff'},{offset:0.095,color:'#d2d2d2'},{offset:0.125,color:'#d2d2d2'},{offset:0.125,color:'#fff'},{offset:0.22,color:'#fff'},{offset:0.22,color:'#d2d2d2'},{offset:0.25,color:'#d2d2d2'},{offset:0.25,color:'#fff'},{offset:0.345,color:'#fff'},{offset:0.345,color:'#d2d2d2'},{offset:0.375,color:'#d2d2d2'},{offset:0.375,color:'#fff'},{offset:0.47,color:'#fff'},{offset:0.47,color:'#d2d2d2'},{offset:0.5,color:'#d2d2d2'},{offset:0.5,color:'#fff'},{offset:0.595,color:'#fff'},{offset:0.595,color:'#d2d2d2'},{offset:0.625,color:'#d2d2d2'},{offset:0.625,color:'#fff'},{offset:0.72,color:'#fff'},{offset:0.72,color:'#d2d2d2'},{offset:0.75,color:'#d2d2d2'},{offset:0.75,color:'#fff'},{offset:0.845,color:'#fff'},{offset:0.845,color:'#d2d2d2'},{offset:0.875,color:'#d2d2d2'},{offset:0.875,color:'#fff'},{offset:0.97,color:'#fff'},{offset:0.97,color:'#d2d2d2'},{offset:1,color:'#d2d2d2'}]}"},
                  "#1e1e1e"
                ]},
              "legend": {"title": null, "orient": "none", "legendX": 247, "legendY": 36, "symbolType": "square", "symbolSize": 121, "symbolStrokeColor": "#333", "symbolStrokeWidth": 1, "labelFontSize": 13, "labelOffset": 12, "rowPadding": -1.3}}
          }
        },
        {
          "transform": [{"filter": {"field": "c", "oneOf": ["4"]}}],
          "mark": {"type": "bar", "stroke": "#222", "strokeWidth": 1},
          "encoding": {
            "fill": {"value": {"expr": "{gradient:'linear',x1:0,y1:0,x2:1,y2:1,stops:[{offset:0,color:'rgba(0,0,0,0)'},{offset:0.04,color:'rgba(0,0,0,0)'},{offset:0.04,color:'rgba(70,70,70,0.7)'},{offset:0.0714,color:'rgba(70,70,70,0.7)'},{offset:0.0714,color:'rgba(0,0,0,0)'},{offset:0.1114,color:'rgba(0,0,0,0)'},{offset:0.1114,color:'rgba(70,70,70,0.7)'},{offset:0.1429,color:'rgba(70,70,70,0.7)'},{offset:0.1429,color:'rgba(0,0,0,0)'},{offset:0.1829,color:'rgba(0,0,0,0)'},{offset:0.1829,color:'rgba(70,70,70,0.7)'},{offset:0.2143,color:'rgba(70,70,70,0.7)'},{offset:0.2143,color:'rgba(0,0,0,0)'},{offset:0.2543,color:'rgba(0,0,0,0)'},{offset:0.2543,color:'rgba(70,70,70,0.7)'},{offset:0.2857,color:'rgba(70,70,70,0.7)'},{offset:0.2857,color:'rgba(0,0,0,0)'},{offset:0.3257,color:'rgba(0,0,0,0)'},{offset:0.3257,color:'rgba(70,70,70,0.7)'},{offset:0.3571,color:'rgba(70,70,70,0.7)'},{offset:0.3571,color:'rgba(0,0,0,0)'},{offset:0.3971,color:'rgba(0,0,0,0)'},{offset:0.3971,color:'rgba(70,70,70,0.7)'},{offset:0.4286,color:'rgba(70,70,70,0.7)'},{offset:0.4286,color:'rgba(0,0,0,0)'},{offset:0.4686,color:'rgba(0,0,0,0)'},{offset:0.4686,color:'rgba(70,70,70,0.7)'},{offset:0.5,color:'rgba(70,70,70,0.7)'},{offset:0.5,color:'rgba(0,0,0,0)'},{offset:0.54,color:'rgba(0,0,0,0)'},{offset:0.54,color:'rgba(70,70,70,0.7)'},{offset:0.5714,color:'rgba(70,70,70,0.7)'},{offset:0.5714,color:'rgba(0,0,0,0)'},{offset:0.6114,color:'rgba(0,0,0,0)'},{offset:0.6114,color:'rgba(70,70,70,0.7)'},{offset:0.6429,color:'rgba(70,70,70,0.7)'},{offset:0.6429,color:'rgba(0,0,0,0)'},{offset:0.6829,color:'rgba(0,0,0,0)'},{offset:0.6829,color:'rgba(70,70,70,0.7)'},{offset:0.7143,color:'rgba(70,70,70,0.7)'},{offset:0.7143,color:'rgba(0,0,0,0)'},{offset:0.7543,color:'rgba(0,0,0,0)'},{offset:0.7543,color:'rgba(70,70,70,0.7)'},{offset:0.7857,color:'rgba(70,70,70,0.7)'},{offset:0.7857,color:'rgba(0,0,0,0)'},{offset:0.8257,color:'rgba(0,0,0,0)'},{offset:0.8257,color:'rgba(70,70,70,0.7)'},{offset:0.8571,color:'rgba(70,70,70,0.7)'},{offset:0.8571,color:'rgba(0,0,0,0)'},{offset:0.8971,color:'rgba(0,0,0,0)'},{offset:0.8971,color:'rgba(70,70,70,0.7)'},{offset:0.9286,color:'rgba(70,70,70,0.7)'},{offset:0.9286,color:'rgba(0,0,0,0)'},{offset:0.9686,color:'rgba(0,0,0,0)'},{offset:0.9686,color:'rgba(70,70,70,0.7)'},{offset:1,color:'rgba(70,70,70,0.7)'}]}"}}
          }
        }
      ]
    }
  ]
}
